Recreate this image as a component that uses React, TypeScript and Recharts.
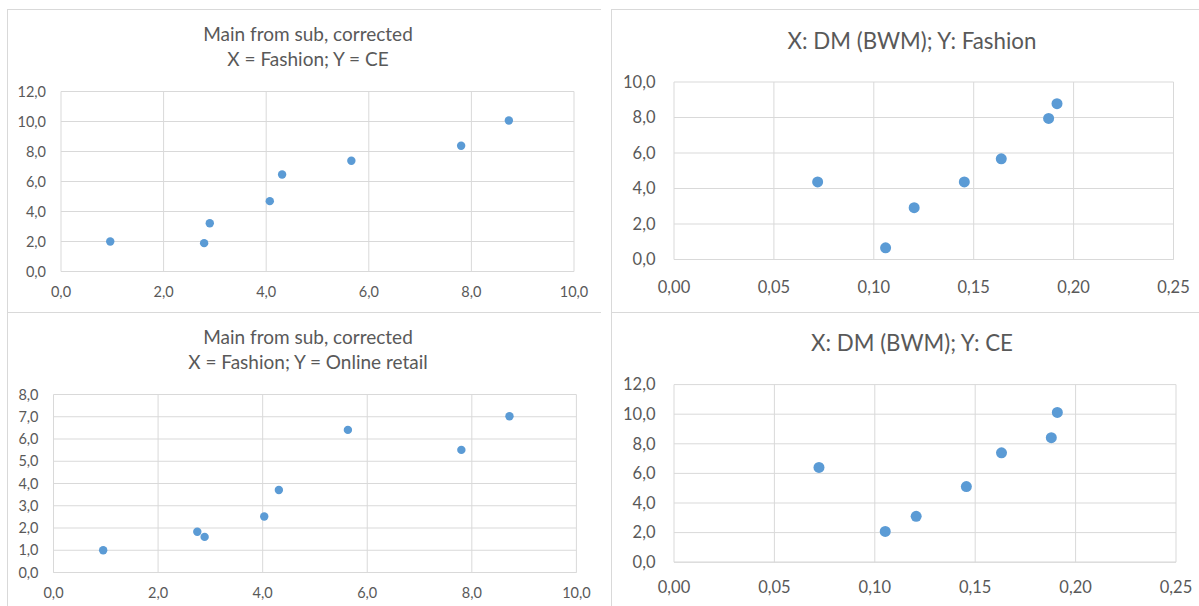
import React from 'react';
import { ScatterChart, Scatter, XAxis, YAxis, CartesianGrid } from 'recharts';

// ---- data ----
const fashionX_CE = [0.96, 2.79, 2.9, 4.07, 4.31, 5.66, 7.8, 8.73];
const ceY_fashion = [2.0, 1.89, 3.22, 4.69, 6.47, 7.38, 8.38, 10.07];

const fashionX_OR = [0.95, 2.75, 2.89, 4.03, 4.31, 5.63, 7.8, 8.72];
const onlineRetailY = [1.0, 1.83, 1.6, 2.52, 3.71, 6.41, 5.51, 7.02];

const dmX_fashion = [0.0719, 0.1059, 0.1202, 0.1453, 0.1638, 0.1875, 0.1917];
const fashionY_dm = [4.37, 0.66, 2.92, 4.37, 5.67, 7.95, 8.78];

const dmX_CE = [0.0722, 0.1052, 0.1206, 0.1456, 0.1631, 0.1879, 0.1909];
const ceY_dm = [6.4, 2.08, 3.1, 5.11, 7.39, 8.41, 10.12];

const xTicksFashion = [0, 2, 4, 6, 8, 10];
const xTicksDM = [0, 0.05, 0.1, 0.15, 0.2, 0.25];
const yTicks12 = [0, 2, 4, 6, 8, 10, 12];
const yTicks10 = [0, 2, 4, 6, 8, 10];
const yTicks8 = [0, 1, 2, 3, 4, 5, 6, 7, 8];

const titleA = ['Main from sub, corrected', 'X = Fashion; Y = CE'];
const titleB = ['X: DM (BWM); Y: Fashion'];
const titleC = ['Main from sub, corrected', 'X = Fashion; Y = Online retail'];
const titleD = ['X: DM (BWM); Y: CE'];

const zip = (xs: number[], ys: number[]) => xs.map((x, i) => ({ x, y: ys[i] }));

const FONT = 'Lato, "Open Sans", sans-serif';
const TEXT = '#595959';
const GRID = '#d9d9d9';
const DOT = '#5B9BD5';

const fmt1 = (v: number) => v.toFixed(1).replace('.', ',');
const fmt2 = (v: number) => v.toFixed(2).replace('.', ',');

type PanelProps = {
  left: number; top: number; width: number; height: number;
  margin: { top: number; right: number; bottom: number; left: number };
  yWidth: number; xHeight: number;
  data: { x: number; y: number }[];
  xDomain: [number, number]; xTicks: number[]; xFmt: (v: number) => string;
  yDomain: [number, number]; yTicks: number[];
  tickFont: number; yTickMargin: number; xTickMargin: number;
  r: number;
};

function Panel(p: PanelProps) {
  return (
    <div style={{ position: 'absolute', left: p.left, top: p.top, width: p.width, height: p.height }}>
      <ScatterChart width={p.width} height={p.height} margin={p.margin}>
        <CartesianGrid stroke={GRID} strokeWidth={1} />
        <XAxis
          type="number" dataKey="x" domain={p.xDomain} ticks={p.xTicks}
          tickFormatter={p.xFmt} height={p.xHeight} interval={0}
          axisLine={{ stroke: GRID }} tickLine={false} tickMargin={p.xTickMargin}
          tick={{ fill: TEXT, fontSize: p.tickFont, fontFamily: FONT }}
          allowDataOverflow
        />
        <YAxis
          type="number" dataKey="y" domain={p.yDomain} ticks={p.yTicks}
          tickFormatter={fmt1} width={p.yWidth} interval={0}
          axisLine={false} tickLine={false} tickMargin={p.yTickMargin}
          tick={{ fill: TEXT, fontSize: p.tickFont, fontFamily: FONT }}
          allowDataOverflow
        />
        <Scatter
          data={p.data} fill={DOT} isAnimationActive={false}
          shape={(s: any) => <circle cx={s.cx} cy={s.cy} r={p.r} fill={DOT} />}
        />
      </ScatterChart>
    </div>
  );
}

function Title({ lines, centerX, top, fontSize, lineHeight }: { lines: string[]; centerX: number; top: number; fontSize: number; lineHeight: number }) {
  return (
    <div style={{
      position: 'absolute', left: centerX - 250, top, width: 500, textAlign: 'center',
      fontFamily: FONT, fontSize, lineHeight: lineHeight + 'px', color: TEXT, whiteSpace: 'nowrap',
    }}>
      {lines.map((l, i) => <div key={i}>{l}</div>)}
    </div>
  );
}

const borderStyle = (left: number, top: number, width: number, height: number): React.CSSProperties => ({
  position: 'absolute', left, top, width, height, borderLeft: `1px solid ${GRID}`, borderTop: `1px solid ${GRID}`, boxSizing: 'border-box',
});

export default function App() {
  return (
    <div style={{ position: 'absolute', left: 0, top: 0, width: 1199, height: 606, background: '#fff', overflow: 'hidden' }}>
      <div style={borderStyle(7, 9, 594, 303)} />
      <div style={borderStyle(611, 9, 588, 303)} />
      <div style={borderStyle(7, 312, 594, 294)} />
      <div style={borderStyle(611, 312, 588, 294)} />

      <Title lines={titleA} centerX={308} top={20.9} fontSize={19} lineHeight={25} />
      <Title lines={titleB} centerX={912} top={25.9} fontSize={22.3} lineHeight={30} />
      <Title lines={titleC} centerX={308} top={323.7} fontSize={19} lineHeight={25} />
      <Title lines={titleD} centerX={912} top={328.2} fontSize={22.3} lineHeight={30} />

      <Panel
        left={7} top={9} width={594} height={303}
        margin={{ top: 82.5, right: 27, bottom: 10.5, left: 6 }} yWidth={48} xHeight={30}
        data={zip(fashionX_CE, ceY_fashion)}
        xDomain={[0, 10]} xTicks={xTicksFashion} xFmt={fmt1}
        yDomain={[0, 12]} yTicks={yTicks12}
        tickFont={14.5} yTickMargin={9} xTickMargin={9} r={4.2}
      />
      <Panel
        left={611} top={9} width={588} height={303}
        margin={{ top: 73, right: 25.5, bottom: 12.5, left: 8 }} yWidth={55} xHeight={40}
        data={zip(dmX_fashion, fashionY_dm)}
        xDomain={[0, 0.25]} xTicks={xTicksDM} xFmt={fmt2}
        yDomain={[0, 10]} yTicks={yTicks10}
        tickFont={16.5} yTickMargin={12.5} xTickMargin={15.4} r={5.5}
      />
      <Panel
        left={7} top={312} width={594} height={294}
        margin={{ top: 82.5, right: 24.6, bottom: 3.5, left: 6.5 }} yWidth={40} xHeight={30}
        data={zip(fashionX_OR, onlineRetailY)}
        xDomain={[0, 10]} xTicks={xTicksFashion} xFmt={fmt1}
        yDomain={[0, 8]} yTicks={yTicks8}
        tickFont={14.5} yTickMargin={9} xTickMargin={9.5} r={4.2}
      />
      <Panel
        left={611} top={312} width={588} height={294}
        margin={{ top: 72.6, right: 23, bottom: 3.8, left: 8 }} yWidth={55} xHeight={40}
        data={zip(dmX_CE, ceY_dm)}
        xDomain={[0, 0.25]} xTicks={xTicksDM} xFmt={fmt2}
        yDomain={[0, 12]} yTicks={yTicks12}
        tickFont={16.5} yTickMargin={12.5} xTickMargin={13.4} r={5.5}
      />
    </div>
  );
}
